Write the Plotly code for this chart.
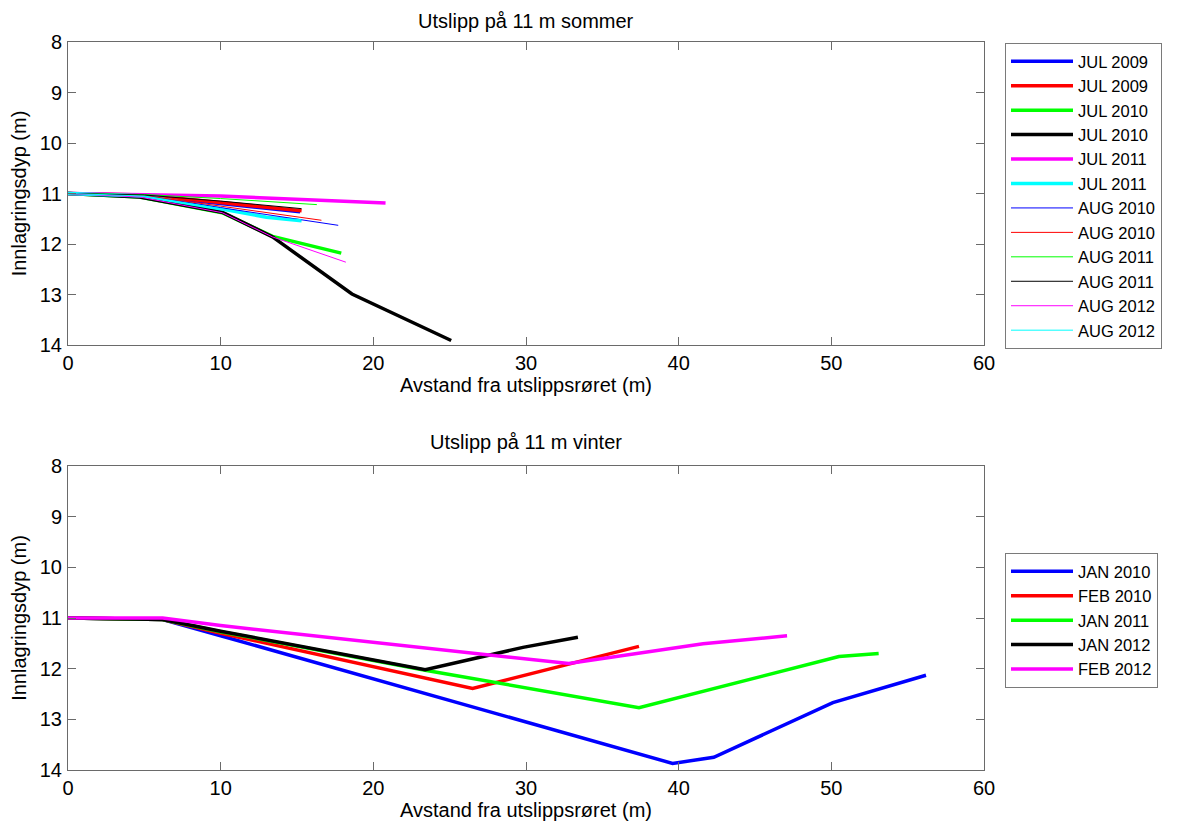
import plotly.graph_objects as go

# ---- Summer (top) data ----
summer_names = ["JUL 2009", "JUL 2009", "JUL 2010", "JUL 2010", "JUL 2011", "JUL 2011",
                "AUG 2010", "AUG 2010", "AUG 2011", "AUG 2011", "AUG 2012", "AUG 2012"]
summer_x = [
    [0, 5.0, 10.0, 15.2],
    [0, 5.0, 10.0, 15.3],
    [0, 4.7, 10.1, 13.4, 17.9],
    [0, 4.7, 10.1, 13.4, 18.6, 25.1],
    [0, 10.0, 20.8],
    [0, 5.0, 10.0, 13.0, 15.3],
    [0, 5.0, 10.0, 17.7],
    [0, 5.0, 10.0, 16.6],
    [0, 5.0, 10.0, 16.3],
    [0, 5.0, 10.0, 15.3],
    [0, 4.7, 10.1, 13.4, 18.2],
    [0, 5.0, 10.0, 13.0, 15.3],
]
summer_y = [
    [11.0, 11.04, 11.2, 11.36],
    [11.0, 11.03, 11.18, 11.34],
    [11.0, 11.07, 11.38, 11.85, 12.18],
    [11.0, 11.07, 11.37, 11.86, 12.99, 13.91],
    [11.0, 11.05, 11.19],
    [11.0, 11.05, 11.3, 11.47, 11.54],
    [11.0, 11.04, 11.28, 11.63],
    [11.0, 11.04, 11.25, 11.53],
    [11.0, 11.02, 11.1, 11.22],
    [11.0, 11.03, 11.15, 11.3],
    [11.0, 11.07, 11.38, 11.86, 12.36],
    [11.0, 11.05, 11.3, 11.47, 11.52],
]
summer_colors = ["#0000FF", "#FF0000", "#00FF00", "#000000", "#FF00FF", "#00FFFF",
                 "#0000FF", "#FF0000", "#00FF00", "#000000", "#FF00FF", "#00FFFF"]
summer_widths = [3.5, 3.5, 3.5, 3.5, 3.5, 3.5, 1, 1, 1, 1, 1, 1]

# ---- Winter (bottom) data ----
winter_names = ["JAN 2010", "FEB 2010", "JAN 2011", "JAN 2012", "FEB 2012"]
winter_x = [
    [0, 6.2, 10.0, 39.6, 42.3, 50.1, 56.2],
    [0, 6.2, 10.0, 26.5, 37.4],
    [0, 6.2, 10.0, 23.4, 37.4, 50.5, 53.1],
    [0, 6.2, 10.0, 23.4, 29.8, 33.4],
    [0, 6.2, 10.0, 23.4, 32.8, 41.6, 47.1],
]
winter_y = [
    [11.0, 11.03, 11.35, 13.87, 13.75, 12.67, 12.13],
    [11.0, 11.03, 11.3, 12.39, 11.56],
    [11.0, 11.03, 11.27, 12.03, 12.77, 11.76, 11.7],
    [11.0, 11.03, 11.26, 12.02, 11.58, 11.38],
    [11.0, 11.0, 11.15, 11.6, 11.9, 11.51, 11.35],
]
winter_colors = ["#0000FF", "#FF0000", "#00FF00", "#000000", "#FF00FF"]

x_ticks = [0, 10, 20, 30, 40, 50, 60]
y_ticks = [8, 9, 10, 11, 12, 13, 14]

FONT = "Liberation Sans, Arial, sans-serif"
AX = "#6a6a6a"

fig = go.Figure()
for n, xs, ys, c, w in zip(summer_names, summer_x, summer_y, summer_colors, summer_widths):
    fig.add_trace(go.Scatter(x=xs, y=ys, mode="lines", name=n,
                             line=dict(color=c, width=w), xaxis="x", yaxis="y",
                             legend="legend"))
for n, xs, ys, c in zip(winter_names, winter_x, winter_y, winter_colors):
    fig.add_trace(go.Scatter(x=xs, y=ys, mode="lines", name=n,
                             line=dict(color=c, width=3.5), xaxis="x2", yaxis="y2",
                             legend="legend2"))

OFF = 8  # page body margin
W, H = 1192 - OFF, 832 - OFF
def px(v):
    return v - OFF

PL, PR = px(68), px(984)
ML, MR = PL, W - PR
ydom1 = [1 - px(345) / H, 1 - px(42) / H]
ydom2 = [1 - px(770) / H, 1 - px(466) / H]

axis_common = dict(showline=True, linecolor=AX, linewidth=1, mirror="ticks",
                   ticks="inside", ticklen=8, tickcolor=AX, showgrid=False,
                   zeroline=False, automargin=False,
                   tickfont=dict(family=FONT, size=20, color="#000"))

xa = dict(axis_common, range=[0, 60], tickvals=x_ticks, domain=[0, 1],
          ticklabelstandoff=0,
          title=dict(text="Avstand fra utslippsrøret (m)", standoff=0,
                     font=dict(family=FONT, size=20, color="#000")))
ya = dict(axis_common, range=[14, 8], tickvals=y_ticks, ticklabelstandoff=1,
          title=dict(text="Innlagringsdyp (m)", standoff=8,
                     font=dict(family=FONT, size=20, color="#000")))

leg_common = dict(xanchor="left", yanchor="top", bordercolor="#7a7a7a", borderwidth=1,
                  bgcolor="white", font=dict(family=FONT, size=16.5, color="#000"),
                  tracegroupgap=0, itemwidth=62)
leg_x = (px(1005) - PL) / (PR - PL)

fig.update_layout(
    width=W, height=H,
    margin=dict(l=ML, r=MR, t=0, b=0, autoexpand=False),
    paper_bgcolor="white", plot_bgcolor="white",
    xaxis=dict(xa, anchor="y"),
    yaxis=dict(ya, domain=ydom1, anchor="x"),
    xaxis2=dict(xa, anchor="y2"),
    yaxis2=dict(ya, domain=ydom2, anchor="x2"),
    legend=dict(leg_common, x=leg_x, y=1 - px(43) / H),
    legend2=dict(leg_common, x=leg_x, y=1 - px(553) / H),
    annotations=[
        dict(text="Utslipp på 11 m sommer", x=0.5, y=1.0,
             xref="paper", yref="paper", xanchor="center", yanchor="top",
             showarrow=False, font=dict(family=FONT, size=20, color="#000")),
        dict(text="Utslipp på 11 m vinter", x=0.5, y=1 - px(442) / H,
             xref="paper", yref="paper", xanchor="center", yanchor="middle",
             showarrow=False, font=dict(family=FONT, size=20, color="#000")),
    ],
    showlegend=True,
)

fig.write_html("out.html")
